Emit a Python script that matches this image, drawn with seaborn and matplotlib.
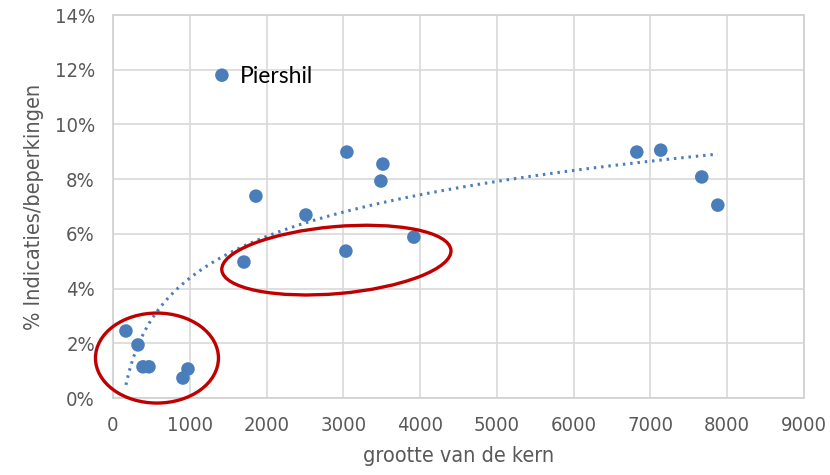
import numpy as np
import pandas as pd
import seaborn as sns
import matplotlib.pyplot as plt
from matplotlib.patches import Ellipse
from matplotlib.transforms import ScaledTranslation

kern_grootte = [1419, 169, 326, 391, 469, 911, 977, 1706, 1862, 2513,
                3047, 3034, 3516, 3490, 3919, 6823, 7135, 7669, 7878]
pct_indicaties = [11.8, 2.45, 1.94, 1.14, 1.14, 0.73, 1.06, 4.97, 7.38, 6.69,
                  8.99, 5.37, 8.55, 7.93, 5.88, 8.99, 9.06, 8.08, 7.05]
label_naam = "Piershil"
x_ticks = list(range(0, 9001, 1000))
y_ticks = list(range(0, 15, 2))

df = pd.DataFrame({"kern": kern_grootte, "pct": pct_indicaties})

sns.set_style("white")
plt.rcParams['font.family'] = ['DejaVu Sans']
plt.rcParams['font.stretch'] = 'condensed'

fig = plt.figure(figsize=(8.3, 4.75), dpi=100)
ax = fig.add_axes([0.1361, 0.1621, 0.8325, 0.8063])

blauw = "#4a7ebb"
sns.scatterplot(data=df, x="kern", y="pct", ax=ax, color=blauw, s=95,
                edgecolor="none", zorder=3)

# logaritmische trendlijn
a, b = np.polyfit(np.log(df["kern"]), df["pct"], 1)
xs = np.linspace(df["kern"].min(), df["kern"].max(), 300)
ax.plot(xs, a * np.log(xs) + b, color=blauw, lw=2.2,
        linestyle=(0, (0.8, 1.6)), zorder=2)

# label bij Piershil
ax.annotate(label_naam, (kern_grootte[0], pct_indicaties[0]), xytext=(13, -1),
            textcoords="offset points", va="center", ha="left",
            fontsize=16.5, color="black", family=["Lato", "DejaVu Sans"],
            fontstretch="normal")

# rode ellipsen (in pixels rond een punt in data-coordinaten)
for cx, cy, w, h, ang in [(573, 1.46, 1.23, 0.90, 0),
                          (2910, 5.04, 2.30, 0.67, 5)]:
    tr = fig.dpi_scale_trans + ScaledTranslation(cx, cy, ax.transData)
    ax.add_patch(Ellipse((0, 0), w, h, angle=ang, transform=tr, fill=False,
                         edgecolor="#c00000", lw=2.4, zorder=4, clip_on=False))

ax.set_xlim(0, 9000)
ax.set_ylim(0, 14)
ax.set_xticks(x_ticks)
ax.set_yticks(y_ticks)
ax.set_yticklabels([f"{t}%" for t in y_ticks])
ax.grid(True, color="#d9d9d9", lw=1.2)
ax.set_axisbelow(True)
for sp in ax.spines.values():
    sp.set_color("#d0d0d0")
    sp.set_linewidth(1.2)
ax.tick_params(length=0, labelsize=14.5, colors="#595959")
ax.tick_params(axis="x", pad=13)
ax.tick_params(axis="y", pad=13)
ax.set_xlabel("grootte van de kern", fontsize=15.5, color="#595959", labelpad=8)
ax.set_ylabel("% Indicaties/beperkingen", fontsize=15.5, color="#595959", labelpad=8)

fig.savefig("out.png", dpi=100)
